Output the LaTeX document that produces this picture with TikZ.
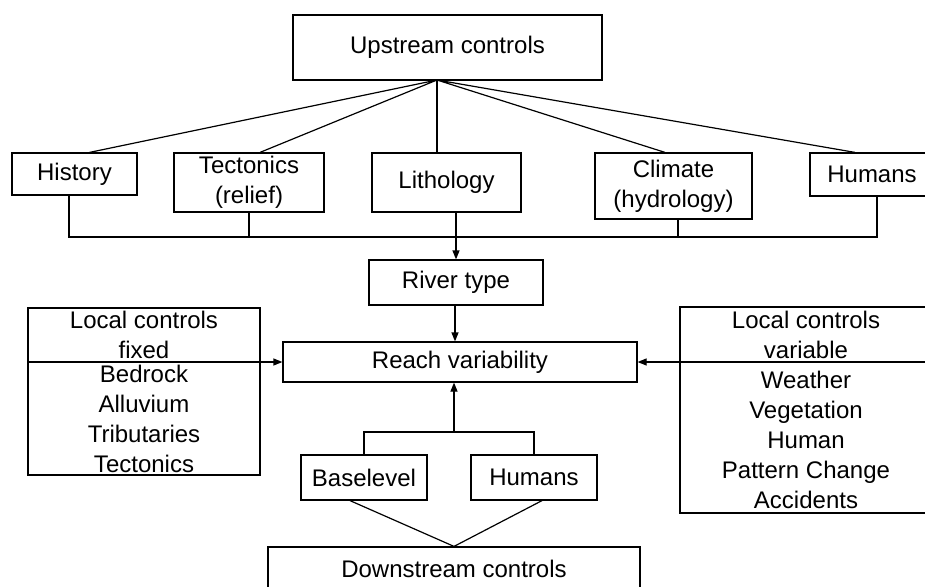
\documentclass[tikz,border=0pt]{standalone}
\usepackage{fontspec}
\setmainfont{Liberation Sans}
\usetikzlibrary{arrows.meta, positioning, calc}

\tikzset{
    ctlbox/.style={draw, line width=1.2pt, align=center, inner sep=0pt,
        font=\fontsize{24}{30}\selectfont},
    link/.style={line width=1.2pt},
    feed/.style={line width=1.2pt, -{Triangle[length=9pt,width=7pt]}}
}

\begin{document}
\begin{tikzpicture}[x=1pt, y=-1pt]
    \path[use as bounding box, fill=white] (0,0) rectangle (925,586);

    % upstream level
    \node[ctlbox, minimum width=309, minimum height=65] (up) at (447.5,47.5) {Upstream controls};
    \node[ctlbox, minimum width=125, minimum height=42] (hist) at (74.5,174) {History};
    \node[ctlbox, minimum width=150, minimum height=59] (tect) at (249,182.5) {Tectonics\\(relief)};
    \node[ctlbox, minimum width=149, minimum height=59] (lith) at (446.5,182.5) {Lithology};
    \node[ctlbox, minimum width=157, minimum height=66] (clim) at (673.5,186) {Climate\\(hydrology)};
    \node[ctlbox, minimum width=124, minimum height=43] (humup) at (872,174.5) {Humans};

    % middle
    \node[ctlbox, minimum width=174, minimum height=45] (river) at (456,282.5) {River type};
    \node[ctlbox, minimum width=354, minimum height=40] (reach) at (460,362) {Reach variability};
    \node[ctlbox, minimum width=232, minimum height=167] (fixedctl) at (144,391.5)
        {Local controls\\fixed\\[-6pt]Bedrock\\Alluvium\\Tributaries\\Tectonics};
    \node[ctlbox, minimum width=252, minimum height=206] (varctl) at (806,410)
        {Local controls\\variable\\Weather\\Vegetation\\Human\\Pattern Change\\Accidents};

    % downstream level
    \node[ctlbox, minimum width=126, minimum height=45] (base) at (364,477.5) {Baselevel};
    \node[ctlbox, minimum width=126, minimum height=45] (humdn) at (534,477.5) {Humans};
    \node[ctlbox, minimum width=372, minimum height=43] (down) at (454,568.5) {Downstream controls};

    \coordinate (upfoot) at (437,80);
    \coordinate (bus) at (455,237);
    \coordinate (dbus) at (454,432);

    % fan out from upstream
    \draw[link] ([xshift=15]hist.north) -- (upfoot) -- ([xshift=11]tect.north);
    \draw[link] (upfoot) -- ([xshift=-9.5]lith.north);
    \draw[link] ([xshift=-8.5]clim.north) -- (upfoot) -- ([xshift=-17]humup.north);

    % collect into river type
    \draw[link] ([xshift=-5.5]hist.south) |- (bus) -| ([xshift=5]humup.south);
    \draw[link] (tect.south) -- (tect.south |- bus);
    \draw[link] ([xshift=4.5]clim.south) -- ([xshift=4.5]clim.south |- bus);
    \draw[feed] ([xshift=9.5]lith.south) -- (river.north);

    % into reach variability
    \draw[feed] ([xshift=-1]river.south) -- ([xshift=-1]river.south |- reach.north);
    \draw[feed] (fixedctl.west |- reach.west) -- (reach.west);
    \draw[feed] (varctl.east |- reach.east) -- (reach.east);
    \draw[link] (base.north) |- (dbus) -| (humdn.north);
    \draw[feed] (dbus) -- (dbus |- reach.south);

    % from downstream
    \draw[link] ([xshift=-14]base.south) -- (down.north) -- ([xshift=8]humdn.south);
\end{tikzpicture}
\end{document}
